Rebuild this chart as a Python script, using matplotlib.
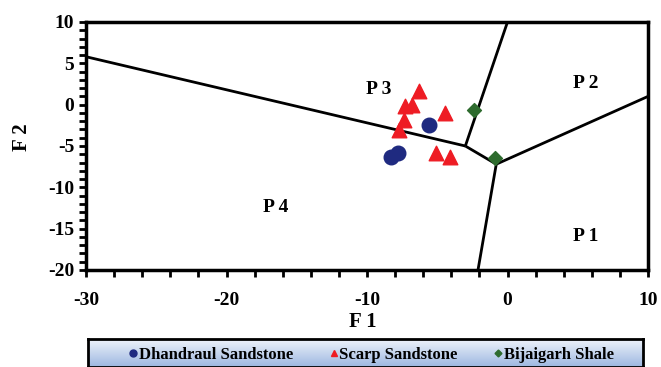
import numpy as np
import matplotlib.pyplot as plt
from matplotlib.ticker import MultipleLocator
from matplotlib.lines import Line2D
from matplotlib.colors import LinearSegmentedColormap

plt.rcParams['font.family'] = 'Liberation Serif'
plt.rcParams['font.weight'] = 'bold'
plt.rcParams['axes.unicode_minus'] = False

# discriminant field boundaries (F1, F2)
bound_left = ([-30, -3.0], [5.8, -5.0])
bound_top = ([-3.0, 0.0], [-5.0, 10])
bound_mid = ([-3.0, -0.8], [-5.0, -7.2])
bound_right = ([-0.8, 10], [-7.2, 1.0])
bound_bottom = ([-0.8, -2.1], [-7.2, -20])

# samples
dhandraul_f1 = [-8.3, -7.8, -5.6]
dhandraul_f2 = [-6.3, -5.8, -2.5]
scarp_f1 = [-6.3, -6.8, -7.3, -4.45, -7.4, -7.7, -5.1, -4.1]
scarp_f2 = [1.6, 0.0, -0.2, -1.0, -1.85, -3.1, -5.8, -6.3]
shale_f1 = [-2.4, -0.9]
shale_f2 = [-0.6, -6.4]

fields = ['P 1', 'P 2', 'P 3', 'P 4']
field_x = [5.6, 5.6, -9.2, -16.5]
field_y = [-16.0, 2.6, 1.8, -12.4]

fig = plt.figure(figsize=(6.61, 3.67), dpi=100)
ax = fig.add_axes([86 / 661, 1 - 270 / 367, 562 / 661, 248 / 367])

for bx, by in [bound_left, bound_top, bound_mid, bound_right, bound_bottom]:
    ax.plot(bx, by, color='black', lw=2, solid_capstyle='butt', zorder=2)

ax.scatter(dhandraul_f1, dhandraul_f2, s=110, color='#1f2a80', marker='o', zorder=3)
ax.scatter(scarp_f1, scarp_f2, s=110, color='#ee1c24', marker='^', zorder=3)
ax.scatter(shale_f1, shale_f2, s=50, color='#2e6b2e', marker='D', zorder=3)

for t, x, y in zip(fields, field_x, field_y):
    ax.text(x, y, t, fontsize=14, fontweight='bold', ha='center', va='center')

ax.set_xlim(-30, 10)
ax.set_ylim(-20, 10)
ax.xaxis.set_major_locator(MultipleLocator(10))
ax.xaxis.set_minor_locator(MultipleLocator(2))
ax.yaxis.set_major_locator(MultipleLocator(5))
ax.yaxis.set_minor_locator(MultipleLocator(1))
ax.tick_params(which='both', direction='out', width=2, length=5, labelsize=14)
ax.tick_params(axis='x', pad=11)
for s in ax.spines.values():
    s.set_linewidth(2.5)

fig.text(363 / 661, 1 - 322 / 367, 'F 1', fontsize=15, fontweight='bold', ha='center', va='center')
fig.text(22 / 661, 1 - 137 / 367, 'F 2', fontsize=15, fontweight='bold', ha='center', va='center', rotation=90)

# legend strip with a vertical blue gradient
lax = fig.add_axes([88 / 661, 0, 555 / 661, 28 / 367])
grad = np.linspace(0, 1, 100).reshape(-1, 1)
lax.imshow(grad, aspect='auto', cmap=LinearSegmentedColormap.from_list('bl', ['#eef3fb', '#9db7e0']),
           extent=[0, 1, 0, 1], origin='upper')
lax.set_xlim(0, 1)
lax.set_ylim(0, 1)
lax.set_xticks([])
lax.set_yticks([])
for s in lax.spines.values():
    s.set_linewidth(2)
handles = [
    Line2D([], [], ls='', marker='o', color='#1f2a80', markersize=5),
    Line2D([], [], ls='', marker='^', color='#ee1c24', markersize=5),
    Line2D([], [], ls='', marker='D', color='#2e6b2e', markersize=3.5),
]
labels = ['Dhandraul Sandstone', 'Scarp Sandstone', 'Bijaigarh Shale']
lax.legend(handles, labels, loc='center', ncol=3, frameon=False, fontsize=12,
           handletextpad=0.05, columnspacing=2.1, handlelength=0.6,
           bbox_to_anchor=(0.51, 0.42))

fig.savefig('out.png', dpi=100)
